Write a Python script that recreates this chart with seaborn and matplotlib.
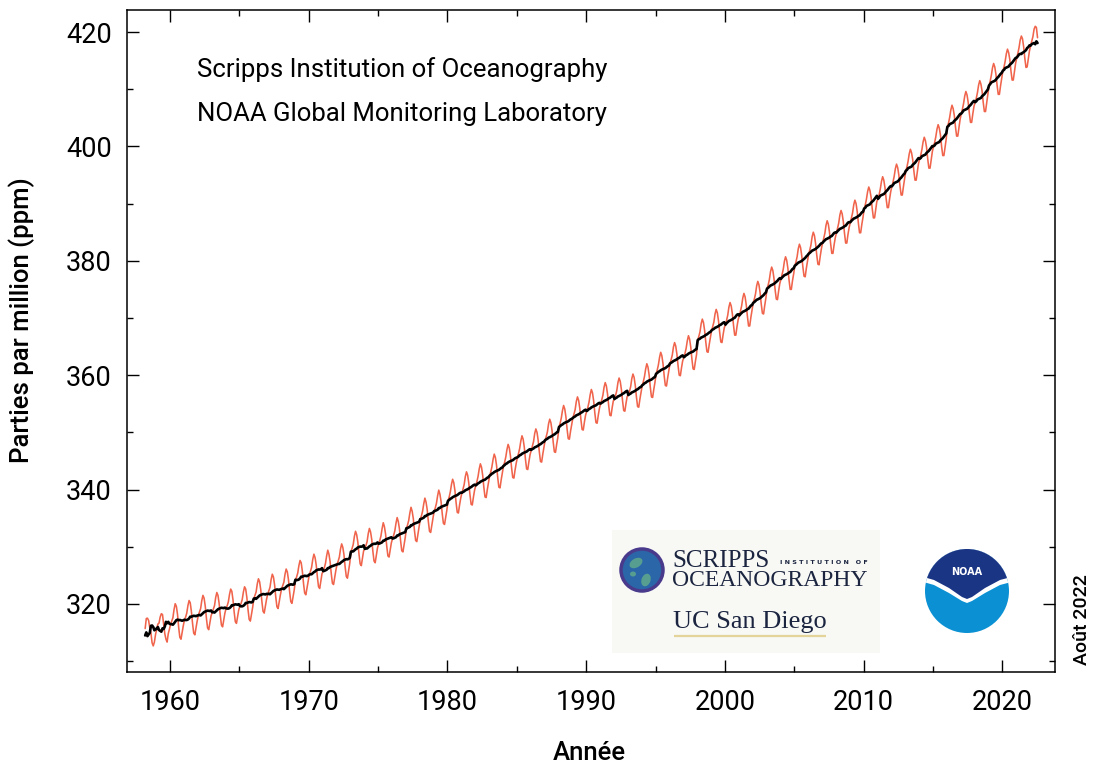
import numpy as np
import pandas as pd
import matplotlib
matplotlib.use("Agg")
import matplotlib.pyplot as plt
import seaborn as sns
from matplotlib.patches import Circle, Polygon, Rectangle, Ellipse
from matplotlib.ticker import MultipleLocator

# ---------------- data: monthly mean CO2 at Mauna Loa (ppm), from March 1958 ----------------
start_month = "1958-03"

co2_1958_1969 = [
    315.70, 317.45, 317.51, 317.10, 315.86, 314.93, 313.20, 312.66, 313.33, 314.67,
    315.58, 316.48, 316.65, 317.72, 318.29, 318.15, 316.54, 314.80, 313.84, 313.33, 314.81, 315.58,
    316.43, 316.98, 317.58, 319.03, 320.04, 319.59, 318.18, 315.90, 314.17, 313.83, 315.00, 316.19,
    317.2, 317.7, 318.4, 319.7, 320.6, 320.2, 318.7, 316.6, 314.9, 314.6, 315.8, 317.0,
    318.0, 318.6, 319.2, 320.6, 321.5, 321.0, 319.6, 317.5, 315.8, 315.5, 316.7, 317.9,
    318.5, 319.1, 319.7, 321.1, 322.0, 321.5, 320.1, 318.0, 316.3, 316.0, 317.2, 318.4,
    319.2, 319.7, 320.4, 321.7, 322.6, 322.2, 320.7, 318.6, 316.9, 316.6, 317.8, 319.0,
    319.6, 320.1, 320.8, 322.1, 323.0, 322.6, 321.1, 319.0, 317.3, 317.0, 318.2, 319.4,
    320.9, 321.5, 322.1, 323.5, 324.4, 323.9, 322.5, 320.4, 318.7, 318.4, 319.6, 320.8,
    321.7, 322.3, 322.9, 324.3, 325.2, 324.7, 323.3, 321.2, 319.5, 319.2, 320.4, 321.6,
    322.6, 323.2, 323.8, 325.2, 326.1, 325.6, 324.2, 322.1, 320.4, 320.1, 321.3, 322.5,
    324.2, 324.7, 325.4, 326.7, 327.6, 327.2, 325.7, 323.6, 321.9, 321.6, 322.8, 324.0,
]
co2_1970s = [
    325.1, 325.7, 326.4, 327.8, 328.7, 328.1, 326.8, 324.7, 323.0, 322.7, 324.0, 325.3,
    325.7, 326.3, 327.1, 328.4, 329.4, 328.7, 327.4, 325.3, 323.6, 323.4, 324.7, 325.9,
    326.9, 327.5, 328.2, 329.6, 330.5, 329.9, 328.6, 326.5, 324.8, 324.5, 325.8, 327.1,
    329.1, 329.7, 330.4, 331.8, 332.7, 332.1, 330.8, 328.7, 327.0, 326.7, 328.0, 329.3,
    329.6, 330.2, 330.9, 332.3, 333.2, 332.6, 331.3, 329.2, 327.5, 327.2, 328.5, 329.8,
    330.5, 331.1, 331.9, 333.2, 334.2, 333.5, 332.2, 330.1, 328.4, 328.2, 329.5, 330.7,
    331.4, 332.0, 332.8, 334.1, 335.1, 334.4, 333.1, 331.0, 329.3, 329.1, 330.4, 331.6,
    333.2, 333.8, 334.6, 335.9, 336.9, 336.2, 334.9, 332.8, 331.1, 330.9, 332.2, 333.4,
    334.8, 335.4, 336.2, 337.5, 338.5, 337.8, 336.5, 334.4, 332.7, 332.5, 333.8, 335.0,
    336.2, 336.8, 337.6, 338.9, 339.9, 339.2, 337.9, 335.8, 334.1, 333.9, 335.2, 336.4,
]
co2_1980s = [
    338.0, 338.7, 339.6, 340.9, 341.8, 341.2, 339.8, 337.7, 336.0, 335.9, 337.3, 338.5,
    339.4, 340.1, 340.9, 342.3, 343.1, 342.5, 341.1, 339.1, 337.4, 337.3, 338.7, 339.9,
    340.7, 341.4, 342.3, 343.6, 344.5, 343.9, 342.5, 340.4, 338.7, 338.6, 340.0, 341.2,
    342.4, 343.1, 344.0, 345.3, 346.2, 345.6, 344.2, 342.1, 340.4, 340.3, 341.7, 342.9,
    344.1, 344.8, 345.7, 347.0, 347.9, 347.3, 345.9, 343.8, 342.1, 342.0, 343.4, 344.6,
    345.6, 346.3, 347.2, 348.5, 349.4, 348.8, 347.4, 345.3, 343.6, 343.5, 344.9, 346.1,
    346.9, 347.6, 348.4, 349.8, 350.6, 350.0, 348.6, 346.6, 344.9, 344.8, 346.2, 347.4,
    348.6, 349.3, 350.1, 351.5, 352.3, 351.7, 350.3, 348.3, 346.6, 346.5, 347.9, 349.1,
    350.9, 351.6, 352.5, 353.8, 354.7, 354.1, 352.7, 350.6, 348.9, 348.8, 350.2, 351.4,
    352.5, 353.2, 354.0, 355.4, 356.2, 355.6, 354.2, 352.2, 350.5, 350.4, 351.8, 353.0,
]
co2_1990s = [
    353.7, 354.4, 355.3, 356.6, 357.5, 356.9, 355.5, 353.4, 351.7, 351.6, 353.0, 354.2,
    355.0, 355.7, 356.5, 357.9, 358.7, 358.1, 356.7, 354.7, 353.0, 352.9, 354.3, 355.5,
    355.8, 356.5, 357.3, 358.7, 359.5, 358.9, 357.5, 355.5, 353.8, 353.7, 355.1, 356.3,
    356.5, 357.2, 358.0, 359.4, 360.2, 359.6, 358.2, 356.2, 354.5, 354.4, 355.8, 357.0,
    358.2, 358.9, 359.8, 361.1, 362.0, 361.4, 360.0, 357.9, 356.2, 356.1, 357.5, 358.7,
    360.2, 360.9, 361.8, 363.1, 364.0, 363.4, 362.0, 359.9, 358.2, 358.1, 359.5, 360.7,
    362.0, 362.7, 363.5, 364.9, 365.7, 365.1, 363.7, 361.7, 360.0, 359.9, 361.3, 362.5,
    363.1, 363.8, 364.7, 366.0, 366.9, 366.3, 364.9, 362.8, 361.1, 361.0, 362.4, 363.6,
    366.1, 366.8, 367.6, 369.0, 369.8, 369.2, 367.8, 365.8, 364.1, 364.0, 365.4, 366.6,
    367.8, 368.5, 369.3, 370.7, 371.5, 370.9, 369.5, 367.5, 365.8, 365.7, 367.1, 368.3,
]
co2_2000s = [
    368.8, 369.6, 370.5, 371.9, 372.7, 372.1, 370.7, 368.7, 367.0, 367.0, 368.5, 369.7,
    370.4, 371.2, 372.1, 373.5, 374.3, 373.7, 372.3, 370.3, 368.6, 368.6, 370.1, 371.3,
    372.6, 373.3, 374.2, 375.6, 376.4, 375.8, 374.4, 372.4, 370.8, 370.7, 372.2, 373.5,
    375.1, 375.8, 376.7, 378.1, 378.9, 378.3, 376.9, 374.9, 373.3, 373.2, 374.7, 376.0,
    376.8, 377.6, 378.5, 379.9, 380.7, 380.1, 378.7, 376.7, 375.0, 375.0, 376.5, 377.7,
    379.1, 379.8, 380.7, 382.1, 382.9, 382.3, 380.9, 378.9, 377.3, 377.2, 378.7, 380.0,
    381.2, 381.9, 382.8, 384.2, 385.0, 384.4, 383.0, 381.0, 379.4, 379.3, 380.8, 382.1,
    383.1, 383.9, 384.8, 386.2, 387.0, 386.4, 385.0, 383.0, 381.3, 381.3, 382.8, 384.0,
    384.9, 385.7, 386.6, 388.0, 388.8, 388.2, 386.8, 384.8, 383.1, 383.1, 384.6, 385.8,
    386.7, 387.5, 388.4, 389.8, 390.6, 390.0, 388.6, 386.6, 384.9, 384.9, 386.4, 387.6,
]
co2_2010_2022 = [
    389.1, 389.8, 390.8, 392.1, 392.9, 392.3, 391.1, 389.1, 387.5, 387.5, 389.0, 390.4,
    390.8, 391.6, 392.6, 393.9, 394.7, 394.1, 392.8, 390.9, 389.3, 389.3, 390.8, 392.1,
    393.0, 393.8, 394.8, 396.1, 396.9, 396.3, 395.0, 393.1, 391.5, 391.5, 393.0, 394.3,
    395.7, 396.4, 397.4, 398.7, 399.5, 398.9, 397.7, 395.7, 394.1, 394.1, 395.6, 397.0,
    397.8, 398.5, 399.5, 400.8, 401.6, 401.0, 399.8, 397.8, 396.2, 396.2, 397.7, 399.1,
    400.0, 400.7, 401.7, 403.0, 403.8, 403.2, 402.0, 400.0, 398.4, 398.4, 399.9, 401.3,
    403.4, 404.1, 405.1, 406.4, 407.2, 406.6, 405.4, 403.4, 401.8, 401.8, 403.3, 404.7,
    405.7, 406.5, 407.5, 408.8, 409.6, 409.0, 407.7, 405.8, 404.2, 404.2, 405.7, 407.0,
    407.7, 408.4, 409.4, 410.7, 411.5, 410.9, 409.7, 407.7, 406.1, 406.1, 407.6, 409.0,
    410.6, 411.4, 412.4, 413.7, 414.5, 413.9, 412.6, 410.7, 409.1, 409.1, 410.6, 411.9,
    413.2, 413.9, 414.9, 416.2, 417.0, 416.4, 415.2, 413.2, 411.6, 411.6, 413.1, 414.5,
    415.5, 416.3, 417.3, 418.6, 419.3, 418.8, 417.4, 415.4, 413.8, 413.9, 415.3, 416.7,
    417.6, 418.4, 419.2, 420.5, 421.0, 420.8, 419.0,
]

x_ticks_major = [1960, 1970, 1980, 1990, 2000, 2010, 2020]
y_ticks_major = [320, 340, 360, 380, 400, 420]
title_lines = ["Scripps Institution of Oceanography", "NOAA Global Monitoring Laboratory"]

# ---------------- assemble ----------------
co2 = np.array(co2_1958_1969 + co2_1970s + co2_1980s + co2_1990s + co2_2000s + co2_2010_2022)
dates = pd.date_range(start_month, periods=len(co2), freq="MS")
dec_year = np.asarray(dates.year + (dates.month - 0.5) / 12.0)
df = pd.DataFrame({"annee": dec_year, "co2": co2, "mois": dates.month})

# seasonally corrected series (2x12 centred moving average -> mean seasonal cycle removed)
w = np.r_[0.5, np.ones(11), 0.5] / 12.0
ma = np.convolve(co2, w, mode="same")
ma[:6] = np.nan
ma[-6:] = np.nan
df["anom"] = df["co2"] - ma
seas = df.groupby("mois")["anom"].mean()
seas = seas - seas.mean()
df["desais"] = df["co2"] - df["mois"].map(seas)

# ---------------- figure ----------------
sns.set_theme(style="ticks")
plt.rcParams["font.family"] = ["Roboto", "DejaVu Sans"]
plt.rcParams["text.color"] = "black"
plt.rcParams["axes.labelcolor"] = "black"
plt.rcParams["xtick.color"] = "black"
plt.rcParams["ytick.color"] = "black"

W, H = 1094, 764
fig = plt.figure(figsize=(W / 100, H / 100), dpi=100)
ax = fig.add_axes([127 / W, 1 - 672 / H, (1055 - 127) / W, (672 - 10) / H])

red = "#F0644C"
sns.lineplot(data=df, x="annee", y="co2", ax=ax, color=red, lw=1.15,
             estimator=None, sort=False)
sns.lineplot(data=df, x="annee", y="desais", ax=ax, color="black", lw=1.9,
             estimator=None, sort=False)

ax.set_xlim(1956.9, 2023.8)
ax.set_ylim(308.1, 423.85)
ax.set_xticks(x_ticks_major)
ax.set_yticks(y_ticks_major)
ax.xaxis.set_minor_locator(MultipleLocator(5))
ax.yaxis.set_minor_locator(MultipleLocator(10))
ax.tick_params(which="both", direction="in", top=True, right=True, width=1.0, color="black")
ax.tick_params(which="major", length=8.6, labelsize=19.5, labelcolor="black")
ax.tick_params(which="minor", length=4.3)
ax.tick_params(axis="y", pad=11)
ax.tick_params(axis="x", pad=12)
for s in ax.spines.values():
    s.set_linewidth(1.1)
    s.set_color("black")

ax.set_xlabel("Année", fontsize=18.5, fontweight="medium", va="center", ha="center", color="black")
ax.set_ylabel("Parties par million (ppm)", fontsize=18.5, fontweight="medium", va="center",
              ha="center", color="black")
ax.xaxis.set_label_coords((589 - 127) / 928, (672 - 753) / 662)
ax.yaxis.set_label_coords((22 - 127) / 928, (672 - 320) / 662)

ax.text(1961.95, 413.4, title_lines[0], fontsize=18.5, va="center", ha="left", color="black")
ax.text(1961.95, 405.7, title_lines[1], fontsize=18.5, va="center", ha="left", color="black")

fig.text(1082 / W, 1 - 620 / H, "Août 2022", rotation=90, fontsize=14, fontweight="medium",
         ha="center", va="center", color="black")

# ---------------- logos (drawn in pixel space) ----------------
ov = fig.add_axes([0, 0, 1, 1], zorder=5)
ov.set_xlim(0, W)
ov.set_ylim(H, 0)
ov.axis("off")
ov.patch.set_alpha(0)

ov.add_patch(Rectangle((612, 530), 268, 123, facecolor="#f8f8f5", edgecolor="none"))
globe = Circle((642, 570), 21, facecolor="#2b66a8", edgecolor="#4a3a8c", lw=2.5)
ov.add_patch(globe)
for (cx, cy, ww, hh, ang) in [(636, 563, 14, 9, -30), (646, 580, 9, 13, 20), (633, 574, 6, 5, 0)]:
    e = Ellipse((cx, cy), ww, hh, angle=ang, facecolor="#5fa88c", edgecolor="none", alpha=0.85)
    e.set_clip_path(globe)
    ov.add_patch(e)
navy = "#1b2540"
ov.text(672, 561, "SCRIPPS", fontfamily="Liberation Serif", fontsize=18, color=navy,
        ha="left", va="center")
ov.text(780, 563, "I N S T I T U T I O N   O F", fontfamily="DejaVu Sans", fontsize=4.6,
        fontweight="bold", color=navy, ha="left", va="center")
ov.text(672, 581, "OCEANOGRAPHY", fontfamily="Liberation Serif", fontsize=17, color=navy,
        ha="left", va="center")
ov.text(673, 628, "UC San Diego", fontfamily="Liberation Serif", fontsize=19, color=navy,
        ha="left", va="baseline")
ov.plot([674, 826], [636, 636], color="#e4d49a", lw=1.6, solid_capstyle="butt")

noaa = Circle((967, 591), 42, facecolor="#0b91d3", edgecolor="none")
ov.add_patch(noaa)
white_poly = Polygon([(920, 540), (1015, 540), (1015, 581), (1000, 585), (985, 593), (972, 601),
                      (967, 603), (962, 601), (949, 593), (934, 585), (920, 581)],
                     closed=True, facecolor="white", edgecolor="none")
white_poly.set_clip_path(noaa)
ov.add_patch(white_poly)
dark_poly = Polygon([(920, 540), (1015, 540), (1015, 576), (1000, 580), (985, 588), (972, 597),
                     (967, 599), (962, 597), (949, 588), (934, 580), (920, 576)],
                    closed=True, facecolor="#1b3585", edgecolor="none")
dark_poly.set_clip_path(noaa)
ov.add_patch(dark_poly)
ov.text(967, 572, "NOAA", fontfamily="DejaVu Sans", fontsize=7, fontweight="bold", color="white",
        ha="center", va="center")

fig.savefig("out.png", dpi=100)
